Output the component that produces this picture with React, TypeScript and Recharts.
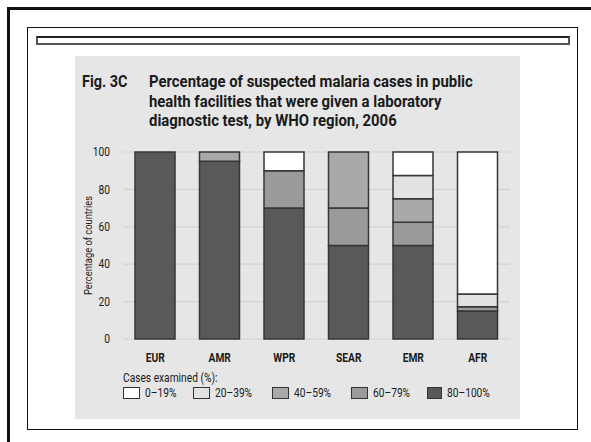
import { BarChart, Bar, XAxis, YAxis, CartesianGrid } from "recharts"

const regions = ["EUR", "AMR", "WPR", "SEAR", "EMR", "AFR"]
const pct80to100 = [100, 95, 70, 50, 50, 15]
const pct60to79 = [0, 0, 20, 20, 12.5, 2.3]
const pct40to59 = [0, 5, 0, 30, 12.5, 0]
const pct20to39 = [0, 0, 0, 0, 12.5, 6.7]
const pct0to19 = [0, 0, 10, 0, 12.5, 76]
const yTicks = [0, 20, 40, 60, 80, 100]

const bins = [
  { key: "b80", label: "80–100%", fill: "#595959" },
  { key: "b60", label: "60–79%", fill: "#9a9a9a" },
  { key: "b40", label: "40–59%", fill: "#a9a9a9" },
  { key: "b20", label: "20–39%", fill: "#e2e2e2" },
  { key: "b0", label: "0–19%", fill: "#ffffff" },
]

// no condensed font installed, so text gets squeezed sideways
const font = "Roboto, sans-serif"
const squeeze = 0.85
const ink = "#1a1a1a"

const data = regions.map((region, i) => ({
  region,
  b80: pct80to100[i],
  b60: pct60to79[i],
  b40: pct40to59[i],
  b20: pct20to39[i],
  b0: pct0to19[i],
}))

const YTick = ({ x, y, payload }: any) => (
  <g transform={`translate(${x},${y})`}>
    <text transform={`scale(${squeeze},1)`} textAnchor="end" dy="0.35em" fontSize={12} fill={ink} fontFamily={font}>
      {payload.value}
    </text>
  </g>
)

const XTick = ({ x, y, payload }: any) => (
  <g transform={`translate(${x},${y})`}>
    <text transform={`scale(${squeeze},1)`} textAnchor="middle" dy="0.71em" fontSize={12} fontWeight="bold" fill={ink} fontFamily={font}>
      {payload.value}
    </text>
  </g>
)

const YLabel = ({ viewBox }: any) => (
  <text
    transform={`translate(${viewBox.x + 29},${viewBox.y + viewBox.height / 2}) rotate(-90) scale(${squeeze},1)`}
    textAnchor="middle"
    fontSize={11}
    fill={ink}
    fontFamily={font}
  >
    Percentage of countries
  </text>
)

const squeezed = (k: number) => ({ transform: `scaleX(${k})`, transformOrigin: "left top" }) as const

// legend slot widths
const legendSlots = [70, 79, 79, 76, 70]

export default function App() {
  const legendOrder = [...bins].reverse()
  return (
    <div style={{ position: "absolute", left: 0, top: 0, width: 591, height: 442, background: "#fff", overflow: "hidden", fontFamily: font }}>
      {/* outer frame, only top and left edges show */}
      <div style={{ position: "absolute", left: 7, top: 7, width: 600, height: 450, borderTop: "3px solid #111", borderLeft: "3px solid #111" }} />
      {/* inner box */}
      <div style={{ position: "absolute", left: 27, top: 27, width: 549, height: 401, border: "1.5px solid #111" }} />
      <div style={{ position: "absolute", left: 36, top: 36, width: 530, height: 5, border: "2px solid #555", borderTopColor: "#222", background: "#fff" }} />

      {/* grey panel */}
      <div style={{ position: "absolute", left: 75, top: 56, width: 445, height: 363, background: "#e6e6e6" }} />

      <div style={{ position: "absolute", left: 82, top: 72, fontSize: 16, fontWeight: "bold", lineHeight: "19.5px", color: ink, whiteSpace: "nowrap", ...squeezed(0.9) }}>
        Fig. 3C
      </div>
      <div style={{ position: "absolute", left: 149, top: 72, fontSize: 16, fontWeight: "bold", lineHeight: "19.5px", color: ink, whiteSpace: "nowrap", ...squeezed(0.93) }}>
        Percentage of suspected malaria cases in public<br />
        health facilities that were given a laboratory<br />
        diagnostic test, by WHO region, 2006
      </div>

      <div style={{ position: "absolute", left: 0, top: 0 }}>
        <BarChart width={591} height={442} data={data} margin={{ top: 152, right: 81, left: 63, bottom: 73 }} barSize={40}>
          <CartesianGrid vertical={false} stroke="#d2d2d2" strokeWidth={1.2} />
          <XAxis dataKey="region" axisLine={false} tickLine={false} tickMargin={8} height={30} tick={<XTick />} />
          <YAxis
            domain={[0, 100]}
            ticks={yTicks}
            axisLine={false}
            tickLine={false}
            tickMargin={7}
            width={60}
            tick={<YTick />}
            label={<YLabel />}
          />
          {bins.map((b) => (
            <Bar key={b.key} dataKey={b.key} stackId="a" fill={b.fill} stroke="#363636" strokeWidth={1.5} isAnimationActive={false} />
          ))}
        </BarChart>
      </div>

      <div style={{ position: "absolute", left: 123, top: 371, fontSize: 12, color: ink, whiteSpace: "nowrap", ...squeezed(squeeze) }}>
        Cases examined (%):
      </div>
      <div style={{ position: "absolute", left: 123, top: 386, display: "flex", fontSize: 12, color: ink, alignItems: "center", whiteSpace: "nowrap" }}>
        {legendOrder.map((b, i) => (
          <div key={b.key} style={{ display: "flex", alignItems: "center", width: legendSlots[i] }}>
            <span style={{ display: "inline-block", width: 15, height: 10, background: b.fill, border: "1px solid #333", marginRight: 5 }} />
            <span style={{ display: "inline-block", ...squeezed(squeeze) }}>{b.label}</span>
          </div>
        ))}
      </div>
    </div>
  )
}
